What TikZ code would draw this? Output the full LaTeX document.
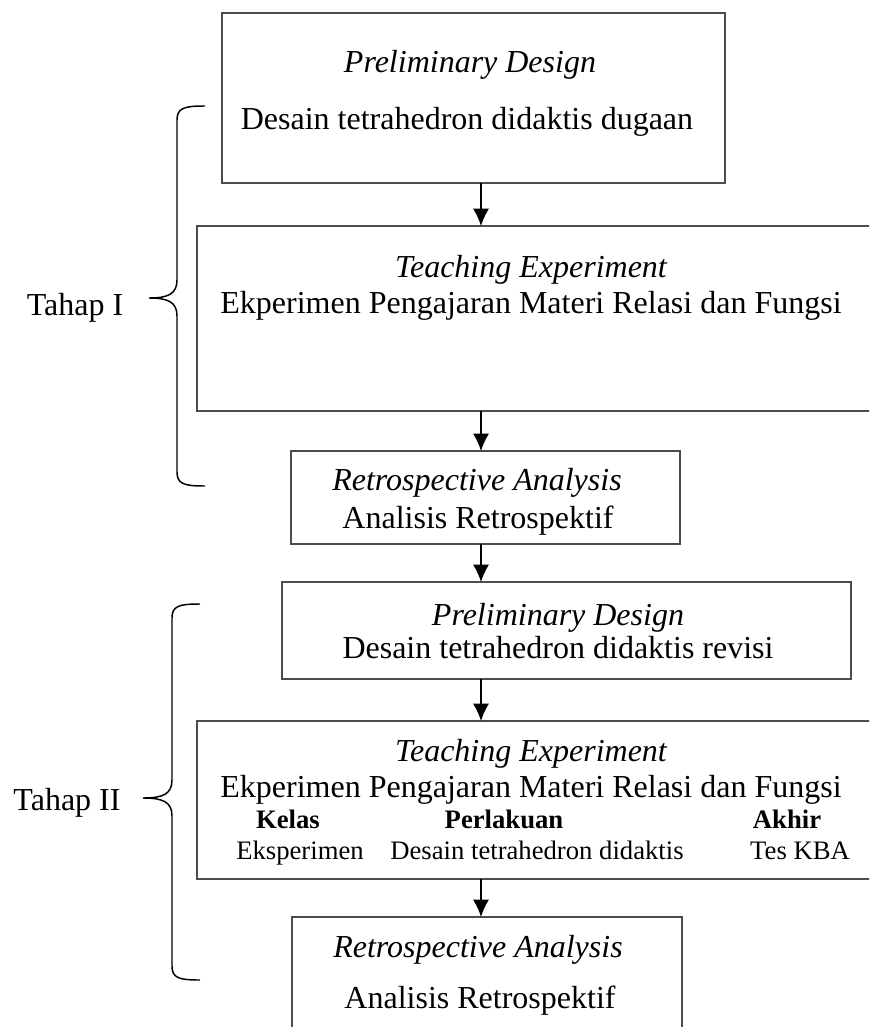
\documentclass[tikz,border=0pt]{standalone}
\usepackage{fontspec}
\setmainfont{Liberation Serif}
\usetikzlibrary{arrows.meta}

\begin{document}
\begin{tikzpicture}[x=0.75pt, y=-0.75pt]
    \tikzset{
      stage/.style={draw=black!70, line width=0.8pt, rectangle, inner sep=0pt, outer sep=0pt},
      flow/.style={->, > = {Latex[length=13pt, width=12pt]}, line width=1pt},
      bracket/.style={line width=1.1pt},
      body/.style={anchor=base, inner sep=0pt, font=\fontsize{24}{28}\selectfont},
      heading/.style={body, font=\fontsize{24}{28}\selectfont\itshape},
      cell/.style={anchor=base, inner sep=0pt, font=\fontsize{20}{24}\selectfont},
      cellhead/.style={cell, font=\fontsize{20}{24}\selectfont\bfseries}
    }
    \useasboundingbox (0,0) rectangle (869,1027);
    \clip (0,0) rectangle (869,1027);

    % boxes
    \draw (473.5,98) node (prelim1) [stage, minimum width=377.25pt, minimum height=127.5pt] {};
    \draw (548.5,318.5) node (teach1) [stage, minimum width=527.25pt, minimum height=138.75pt] {};
    \draw (485.5,497.5) node (retro1) [stage, minimum width=291.75pt, minimum height=69.75pt] {};
    \draw (566.5,630.5) node (prelim2) [stage, minimum width=426.75pt, minimum height=72.75pt] {};
    \draw (548.5,800) node (teach2) [stage, minimum width=527.25pt, minimum height=118.5pt] {};
    \draw (487,983.5) node (retro2) [stage, minimum width=292.5pt, minimum height=99.75pt] {};

    % texts
    \draw (470,73) node (pd1) [heading] {Preliminary Design};
    \draw (467,130) node (pd1b) [body] {Desain tetrahedron didaktis dugaan};
    \draw (531,277) node (te1) [heading] {Teaching Experiment};
    \draw (531,313) node (te1b) [body] {Ekperimen Pengajaran Materi Relasi dan Fungsi};
    \draw (477,490) node (ra1) [heading] {Retrospective Analysis};
    \draw (478,528) node (ra1b) [body] {Analisis Retrospektif};
    \draw (558,625) node (pd2) [heading] {Preliminary Design};
    \draw (558,658) node (pd2b) [body] {Desain tetrahedron didaktis revisi};
    \draw (531,761) node (te2) [heading] {Teaching Experiment};
    \draw (531,797) node (te2b) [body] {Ekperimen Pengajaran Materi Relasi dan Fungsi};
    \draw (288,828) node (kelas) [cellhead] {Kelas};
    \draw (504,828) node (perlakuan) [cellhead] {Perlakuan};
    \draw (787,828) node (akhir) [cellhead] {Akhir};
    \draw (300,859) node (kelasv) [cell] {Eksperimen};
    \draw (537,859) node (perlakuanv) [cell] {Desain tetrahedron didaktis};
    \draw (800,859) node (akhirv) [cell] {Tes KBA};
    \draw (478,957) node (ra2) [heading] {Retrospective Analysis};
    \draw (480,1008) node (ra2b) [body] {Analisis Retrospektif};

    % stages
    \draw (75,315) node (tahap1) [body] {Tahap I};
    \draw (67,810) node (tahap2) [body] {Tahap II};
    \draw[bracket] (205,106) .. controls (184,106) and (177,108) .. (177,120) -- (177,280)
      .. controls (177,294) and (168,298) .. (149,298)
      .. controls (168,298) and (177,302) .. (177,316) -- (177,472)
      .. controls (177,484) and (184,486) .. (205,486);
    \draw[bracket] (200,604) .. controls (179,604) and (172,606) .. (172,618) -- (172,780)
      .. controls (172,794) and (163,798) .. (143,798)
      .. controls (163,798) and (172,802) .. (172,816) -- (172,966)
      .. controls (172,978) and (179,980) .. (200,980);

    % arrows
    \coordinate (axis) at (481,0);
    \draw[flow] (prelim1.south -| axis) -- (teach1.north -| axis);
    \draw[flow] (teach1.south -| axis) -- (retro1.north -| axis);
    \draw[flow] (retro1.south -| axis) -- (prelim2.north -| axis);
    \draw[flow] (prelim2.south -| axis) -- (teach2.north -| axis);
    \draw[flow] (teach2.south -| axis) -- (retro2.north -| axis);

  \end{tikzpicture}
\end{document}
